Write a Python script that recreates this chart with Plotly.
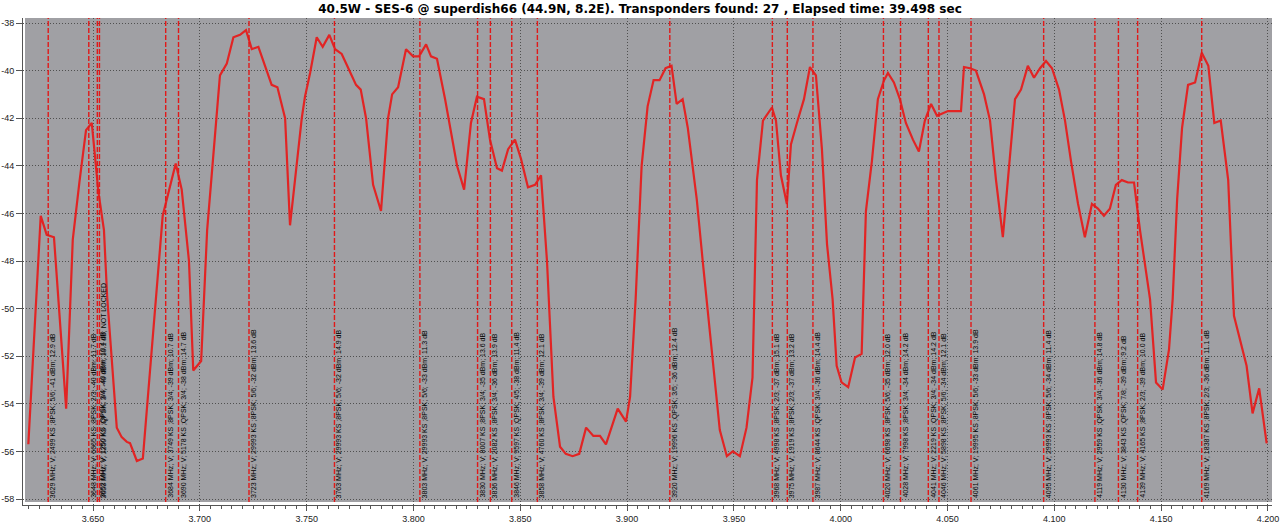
import plotly.graph_objects as go

# ---- data ----
freq_mhz = [3619.7, 3625.5, 3628.3, 3631.7, 3637.4, 3640.5, 3643.6, 3646.7, 3649.4, 3652.5,
            3655.1, 3656.6, 3661.1, 3663.4, 3665.8, 3667.3, 3670.5, 3673.3, 3682.6, 3684.5,
            3688.7, 3691.5, 3694.9, 3696.9, 3700.6, 3703.4, 3707.9, 3709.4, 3712.6, 3715.7,
            3718.8, 3721.6, 3724.3, 3727.4, 3733.6, 3736.3, 3739.9, 3742.2, 3747.7, 3749.2,
            3751.6, 3754.7, 3757.5, 3760.6, 3763.3, 3766.4, 3769.5, 3773.1, 3775.3, 3777.8,
            3781.1, 3784.8, 3788.1, 3790.0, 3792.8, 3796.5, 3799.8, 3802.6, 3805.9, 3808.2,
            3811.0, 3814.8, 3820.4, 3823.7, 3826.9, 3829.7, 3833.0, 3835.8, 3839.1, 3841.4,
            3844.3, 3847.5, 3850.3, 3853.6, 3856.9, 3859.7, 3862.5, 3865.5, 3868.6, 3871.3,
            3874.5, 3877.6, 3880.8, 3884.2, 3887.3, 3890.1, 3895.6, 3899.5, 3901.4, 3904.0,
            3906.8, 3909.6, 3912.4, 3915.2, 3918.0, 3920.8, 3923.2, 3926.0, 3928.4, 3932.6,
            3935.4, 3938.7, 3943.4, 3946.7, 3949.5, 3952.8, 3955.9, 3958.7, 3960.8, 3963.6,
            3966.4, 3967.8, 3969.7, 3972.0, 3974.8, 3976.7, 3979.5, 3982.8, 3985.6, 3988.4,
            3991.2, 3993.6, 3996.2, 3998.1, 4000.4, 4003.5, 4006.7, 4009.8, 4011.8, 4014.6,
            4017.4, 4020.3, 4022.1, 4024.9, 4027.7, 4030.5, 4033.8, 4036.6, 4039.4, 4042.3,
            4045.1, 4047.4, 4050.2, 4053.5, 4056.3, 4057.7, 4060.5, 4063.3, 4067.1, 4069.9,
            4072.7, 4075.9, 4078.3, 4081.6, 4084.4, 4087.6, 4090.5, 4093.3, 4096.1, 4098.9,
            4102.2, 4105.0, 4107.8, 4111.1, 4114.3, 4117.6, 4120.4, 4123.2, 4126.0, 4128.8,
            4131.6, 4134.5, 4137.3, 4140.1, 4144.8, 4147.6, 4150.7, 4153.7, 4155.4, 4157.5,
            4159.8, 4162.6, 4165.9, 4169.0, 4172.1, 4174.9, 4177.9, 4181.4, 4184.1, 4186.9,
            4190.0, 4192.8, 4195.9, 4199.4]
level_dbm = [-55.7, -46.1, -46.9, -47.0, -54.2, -47.1, -44.7, -42.5, -42.2, -45.1,
             -46.7, -49.5, -55.0, -55.4, -55.6, -55.65, -56.4, -56.3, -46.1, -45.4,
             -43.9, -45.0, -48.0, -52.6, -52.2, -46.7, -41.9, -40.2, -39.7, -38.6,
             -38.5, -38.3, -39.1, -39.0, -40.6, -40.7, -42.0, -46.5, -42.0, -41.1,
             -40.1, -38.6, -39.0, -38.5, -39.1, -39.3, -39.9, -40.6, -40.8, -42.0,
             -44.8, -45.9, -42.0, -41.0, -40.7, -39.1, -39.4, -39.4, -38.9, -39.4,
             -39.5, -41.2, -44.0, -45.0, -42.2, -41.1, -41.2, -42.9, -44.1, -44.2,
             -43.3, -42.9, -43.7, -44.9, -44.8, -44.4, -48.0, -53.7, -55.8, -56.1,
             -56.2, -56.1, -55.0, -55.35, -55.35, -55.7, -54.2, -54.75, -53.7, -49.6,
             -44.0, -41.5, -40.4, -40.4, -39.9, -39.8, -41.4, -41.2, -42.4, -45.4,
             -48.0, -51.0, -55.1, -56.2, -56.0, -56.2, -55.0, -52.9, -44.6, -42.1,
             -41.7, -41.55, -42.1, -44.4, -45.6, -43.1, -42.2, -41.2, -39.85, -40.2,
             -43.3, -47.3, -49.6, -52.4, -53.1, -53.3, -52.05, -51.9, -45.9, -43.8,
             -41.2, -40.4, -40.1, -40.5, -41.2, -42.2, -42.9, -43.4, -42.1, -41.4,
             -41.9, -41.8, -41.7, -41.7, -41.7, -39.85, -39.9, -40.0, -41.0, -42.1,
             -44.6, -47.0, -44.4, -41.2, -40.8, -39.8, -40.3, -39.9, -39.6, -39.9,
             -40.8, -42.1, -43.8, -45.6, -47.0, -45.6, -45.8, -46.1, -45.8, -44.8,
             -44.6, -44.7, -44.7, -46.7, -49.6, -53.1, -53.4, -51.7, -49.6, -45.4,
             -42.4, -40.6, -40.5, -39.25, -39.8, -42.2, -42.1, -44.6, -50.3, -51.3,
             -52.4, -54.4, -53.35, -55.66]

tp_freq = [3629, 3648, 3652, 3653, 3684, 3690, 3723, 3763, 3803, 3830, 3836, 3846, 3858, 3920,
           3968, 3975, 3987, 4020, 4028, 4041, 4046, 4061, 4095, 4119, 4130, 4139, 4169]
tp_label = [
    "3629 MHz; V; 2499 KS ;8PSK; 5/6; -41 dBm; 12.9 dB",
    "3648 MHz; V; 6665 KS ;8PSK; 2/3; -40 dBm; 11.7 dB",
    "3652 MHz; V; 1250 KS ;QPSK; 3/4; -40 dBm; 10.4 dB",
    "3653 MHz; V; 1250 KS ;QPSK; 3/4; -40 dBm; 10.1 dB; NOT LOCKED",
    "3684 MHz; V; 3749 KS ;8PSK; 3/4; -39 dBm; 10.7 dB",
    "3690 MHz; V; 5178 KS ;QPSK; 3/4; -38 dBm; 14.7 dB",
    "3723 MHz; V; 29993 KS ;8PSK; 5/6; -32 dBm; 13.6 dB",
    "3763 MHz; V; 29993 KS ;8PSK; 5/6; -32 dBm; 14.9 dB",
    "3803 MHz; V; 29993 KS ;8PSK; 5/6; -33 dBm; 11.3 dB",
    "3830 MHz; V; 8007 KS ;8PSK; 3/4; -35 dBm; 13.6 dB",
    "3836 MHz; V; 2082 KS ;8PSK; 3/4; -36 dBm; 13.9 dB",
    "3846 MHz; V; 9597 KS ;QPSK; 4/5; -38 dBm; 11.4 dB",
    "3858 MHz; V; 4760 KS ;8PSK; 3/4; -39 dBm; 12.1 dB",
    "3920 MHz; V; 19996 KS ;QPSK; 3/5; -36 dBm; 12.4 dB",
    "3968 MHz; V; 4998 KS ;8PSK; 2/3; -37 dBm; 15.1 dB",
    "3975 MHz; V; 1919 KS ;8PSK; 2/3; -37 dBm; 13.2 dB",
    "3987 MHz; V; 8644 KS ;QPSK; 3/4; -36 dBm; 14.4 dB",
    "4020 MHz; V; 6698 KS ;8PSK; 5/6; -35 dBm; 12.0 dB",
    "4028 MHz; V; 7998 KS ;8PSK; 3/4; -34 dBm; 14.2 dB",
    "4041 MHz; V; 2219 KS ;QPSK; 3/4; -34 dBm; 14.2 dB",
    "4046 MHz; V; 5898 KS ;8PSK; 5/6; -34 dBm; 12.1 dB",
    "4061 MHz; V; 19995 KS ;8PSK; 5/6; -33 dBm; 13.9 dB",
    "4095 MHz; V; 29993 KS ;8PSK; 5/6; -34 dBm; 11.4 dB",
    "4119 MHz; V; 2959 KS ;QPSK; 3/4; -36 dBm; 14.8 dB",
    "4130 MHz; V; 3843 KS ;QPSK; 7/8; -39 dBm; 9.2 dB",
    "4139 MHz; V; 4165 KS ;8PSK; 2/3; -39 dBm; 10.0 dB",
    "4169 MHz; V; 18387 KS ;8PSK; 2/3; -36 dBm; 11.1 dB",
]

y_ticks = [-38, -40, -42, -44, -46, -48, -50, -52, -54, -56, -58]
y_ticktext = ["-38", "-40", "-42", "-44", "-46", "-48", "-50", "-52", "-54", "-56", "-58"]

title = "40.5W - SES-6 @ superdish66 (44.9N, 8.2E). Transponders found: 27 , Elapsed time: 39.498 sec"

# ---- figure ----
RED = "rgb(226,36,36)"
x_ghz = [f / 1000.0 for f in freq_mhz]

fig = go.Figure()
fig.add_trace(go.Scatter(x=x_ghz, y=level_dbm, mode="lines",
                         line=dict(color=RED, width=2.2), hoverinfo="skip"))

shapes = [dict(type="rect", xref="paper", yref="paper", x0=0.0016, x1=1, y0=0.0062, y1=1,
               fillcolor="#a0a0a4", line=dict(width=0), layer="below")]
annotations = []
for f, lab in zip(tp_freq, tp_label):
    shapes.append(dict(type="line", xref="x", yref="paper", x0=f / 1000.0, x1=f / 1000.0,
                       y0=0.0062, y1=1, line=dict(color="rgb(225,25,25)", width=1.4, dash="5px,2px"),
                       layer="above"))
    annotations.append(dict(x=f / 1000.0, y=0, xref="x", yref="paper", text=lab,
                            textangle=-90, showarrow=False, xanchor="left", yanchor="bottom",
                            xshift=0, yshift=6, borderpad=0,
                            font=dict(family="Liberation Sans", size=7, color="#000000")))

fig.update_layout(
    width=1280, height=525,
    margin=dict(l=23, r=8, t=18, b=20),
    paper_bgcolor="#ffffff",
    plot_bgcolor="#ffffff",
    showlegend=False,
    shapes=shapes,
    annotations=annotations,
    title=dict(text=title, x=0.5, xref="container", xanchor="center", y=1 - 9 / 525,
               yref="container", yanchor="middle",
               font=dict(family="DejaVu Sans", size=12, color="#000000", weight="bold")),
)
fig.update_xaxes(range=[3.6172, 4.2019], dtick=0.05, tick0=3.65, tickformat=".3f",
                 automargin=False,
                 showgrid=True, gridcolor="#505050", griddash="1px,2px", gridwidth=1,
                 zeroline=False, showline=True, linecolor="#555555", linewidth=1,
                 ticks="outside", ticklen=5, tickcolor="#555555",
                 tickfont=dict(family="Liberation Sans", size=9, color="#222222"),
                 minor=dict(dtick=0.005, tick0=3.65, ticks="outside", ticklen=3,
                            tickcolor="#555555", showgrid=False))
fig.update_yaxes(range=[-58.25, -37.79], tickvals=y_ticks, ticktext=y_ticktext,
                 automargin=False,
                 showgrid=True, gridcolor="#505050", griddash="1px,2px", gridwidth=1,
                 zeroline=False, showline=True, linecolor="#555555", linewidth=1,
                 ticks="outside", ticklen=6, tickcolor="#555555",
                 tickfont=dict(family="Liberation Sans", size=9, color="#222222"))

fig.write_html("out.html", config={"displayModeBar": False},
               post_script="document.body.style.margin='0px';document.body.style.overflow='hidden';")
